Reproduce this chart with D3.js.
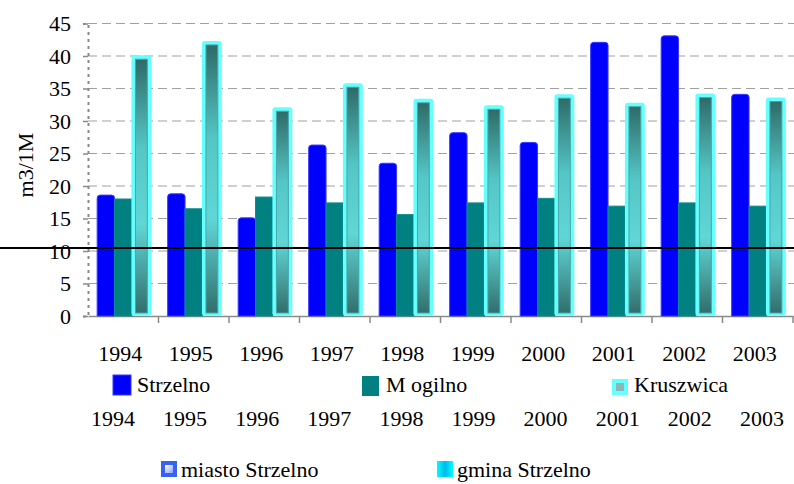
<!DOCTYPE html>
<html>
<head>
<meta charset="utf-8">
<script src="https://cdn.jsdelivr.net/npm/d3@7"></script>
<style>
  body { margin: 0; background: #fff; }
</style>
</head>
<body>
<svg id="chart" width="794" height="484"></svg>
<script>
const years = ['1994', '1995', '1996', '1997', '1998', '1999', '2000', '2001', '2002', '2003']
const series = ['Strzelno', 'Mogilno', 'Kruszwica']
const strzelno = [18.6, 18.8, 15.1, 26.3, 23.5, 28.2, 26.7, 42.1, 43.1, 34.1]
const mogilno = [18.0, 16.5, 18.3, 17.4, 15.6, 17.4, 18.1, 16.9, 17.4, 16.9]
const kruszwica = [39.5, 41.7, 31.5, 35.2, 32.8, 31.8, 33.5, 32.2, 33.6, 33.0]
const yTicks = d3.range(0, 50, 5)
const secondYears = years
const extraLegend = ['miasto Strzelno', 'gmina Strzelno']

const FONT = '"Liberation Serif"'
const svg = d3.select('#chart')
const x0 = d3.scaleBand().domain(years).range([88, 793]).paddingInner(0.26).paddingOuter(0.13)
const x1 = d3.scaleBand().domain(series).range([0, x0.bandwidth()])
const y = d3.scaleLinear().domain([0, 45]).range([316, 23.5])

function label(x, yy, txt, anchor) {
  return svg.append('text')
    .attr('x', x)
    .attr('y', yy)
    .attr('text-anchor', anchor || 'start')
    .style('font-family', FONT)
    .style('font-size', '22px')
    .text(txt)
}

const defs = svg.append('defs')
const grad = defs.append('linearGradient').attr('id', 'kru').attr('x1', 0).attr('x2', 0).attr('y1', 0).attr('y2', 1)
grad.selectAll('stop')
  .data([[0, '#2e6b68'], [0.35, '#55c6c6'], [0.65, '#60d6d6'], [1, '#316e6c']])
  .enter().append('stop')
  .attr('offset', (d) => d[0]).attr('stop-color', (d) => d[1])

const lg1 = defs.append('linearGradient').attr('id', 'leg1').attr('x1', 0).attr('x2', 1).attr('y1', 0).attr('y2', 1)
lg1.append('stop').attr('offset', 0).attr('stop-color', '#ffffff')
lg1.append('stop').attr('offset', 1).attr('stop-color', '#8aa0ff')
const lg2 = defs.append('linearGradient').attr('id', 'leg2').attr('x1', 0).attr('x2', 1)
lg2.append('stop').attr('offset', 0).attr('stop-color', '#00ffff')
lg2.append('stop').attr('offset', 0.5).attr('stop-color', '#00b8ee')
lg2.append('stop').attr('offset', 1).attr('stop-color', '#00ffff')

// gridlines
svg.append('g')
  .selectAll('line')
  .data(yTicks.filter((d) => d > 0))
  .enter()
  .append('line')
  .attr('x1', 88).attr('x2', 794)
  .attr('y1', (d) => y(d)).attr('y2', (d) => y(d))
  .attr('stroke', '#a0a0a0')
  .attr('stroke-width', 1.2)
  .attr('stroke-dasharray', '9,5')

// y axis
const yAxis = svg.append('g')
  .attr('transform', 'translate(88,0)')
  .call(d3.axisLeft(y).tickValues(yTicks).tickSize(5).tickFormat(''))
yAxis.select('.domain').attr('stroke', '#8a8a8a').attr('stroke-width', 2).attr('stroke-dasharray', '3,4')
yAxis.selectAll('.tick line').attr('stroke', '#8a8a8a').attr('stroke-width', 1.5)
yTicks.forEach((v) => label(71, y(v) + 7.5, String(v), 'end'))

// x axis
const xAxis = svg.append('g')
  .attr('transform', 'translate(0,316)')
  .call(d3.axisBottom(x0).tickSize(0).tickFormat(''))
xAxis.select('.domain').attr('stroke', '#8a8a8a').attr('stroke-width', 1.5)
xAxis.selectAll('.sep')
  .data(years.slice(1).concat(['end']))
  .enter()
  .append('line')
  .attr('x1', (d, i) => 88 + x0.step() * (i + 1))
  .attr('x2', (d, i) => 88 + x0.step() * (i + 1))
  .attr('y1', 0).attr('y2', 7)
  .attr('stroke', '#8a8a8a').attr('stroke-width', 1.5)
years.forEach((d) => label(x0(d) + x0.bandwidth() / 2 - 3, 361, d, 'middle'))

function topRounded(x, yTop, w, h, r) {
  return `M${x},${yTop + h}V${yTop + r}Q${x},${yTop} ${x + r},${yTop}H${x + w - r}Q${x + w},${yTop} ${x + w},${yTop + r}V${yTop + h}Z`
}

const groups = svg.append('g')
  .selectAll('g')
  .data(years)
  .enter()
  .append('g')
  .attr('transform', (d) => `translate(${x0(d)},0)`)

// Strzelno
groups.append('path')
  .attr('d', (d, i) => topRounded(0, y(strzelno[i]), x1.bandwidth(), y(0) - y(strzelno[i]), 3))
  .attr('fill', '#0000ff')
  .attr('stroke', '#3a3aff')
  .attr('stroke-width', 1)

// Mogilno
groups.append('rect')
  .attr('x', x1('Mogilno'))
  .attr('y', (d, i) => y(mogilno[i]))
  .attr('width', x1.bandwidth())
  .attr('height', (d, i) => y(0) - y(mogilno[i]))
  .attr('fill', '#008080')
  .attr('stroke', '#0f8c8c')
  .attr('stroke-width', 1)

// Kruszwica
groups.append('rect')
  .attr('x', x1('Kruszwica') - 0.5)
  .attr('y', (d, i) => y(kruszwica[i]) - 4)
  .attr('width', x1.bandwidth() + 2.5)
  .attr('height', (d, i) => y(0) - y(kruszwica[i]) + 4)
  .attr('rx', 3)
  .attr('fill', '#66ffff')
groups.append('rect')
  .attr('x', x1('Kruszwica') + 3.5)
  .attr('y', (d, i) => y(kruszwica[i]))
  .attr('width', x1.bandwidth() - 5.5)
  .attr('height', (d, i) => y(0) - y(kruszwica[i]) - 3)
  .attr('fill', 'url(#kru)')
  .attr('stroke', '#4aa6a6')
  .attr('stroke-width', 1)

// y title
svg.append('text')
  .attr('transform', 'translate(33,165) rotate(-90)')
  .attr('text-anchor', 'middle')
  .style('font-family', FONT)
  .style('font-size', '22px')
  .text('m3/1M')

// legend row 1
const legX = [113, 362, 612]
const leg = svg.append('g')
leg.append('rect').attr('x', legX[0]).attr('y', 375).attr('width', 18).attr('height', 20).attr('fill', '#0000ff').attr('stroke', '#3a3aff')
leg.append('rect').attr('x', legX[1]).attr('y', 376).attr('width', 17).attr('height', 20).attr('fill', '#008080')
leg.append('rect').attr('x', legX[2]).attr('y', 379).attr('width', 16).attr('height', 16).attr('fill', '#66ffff')
leg.append('rect').attr('x', legX[2] + 4).attr('y', 383).attr('width', 8).attr('height', 8).attr('fill', '#8ab8b8')
series.forEach((d, i) => label(legX[i] + (i === 2 ? 22 : 24), 392, d === 'Mogilno' ? 'M ogilno' : d))

// second year row
secondYears.forEach((d, i) => label(113 + i * 72.1, 426, d, 'middle'))

// legend row 3
const leg3X = [161, 437]
const leg3 = svg.append('g')
leg3.append('rect').attr('x', leg3X[0]).attr('y', 461).attr('width', 16).attr('height', 16).attr('fill', '#3562f5')
leg3.append('rect').attr('x', leg3X[0] + 4).attr('y', 465).attr('width', 8).attr('height', 8).attr('fill', 'url(#leg1)')
leg3.append('rect').attr('x', leg3X[1]).attr('y', 461).attr('width', 16).attr('height', 16).attr('fill', 'url(#leg2)')
extraLegend.forEach((d, i) => label(leg3X[i] + 20, 477, d))

// black horizontal line
svg.append('line')
  .attr('x1', 0).attr('x2', 794)
  .attr('y1', 248).attr('y2', 248)
  .attr('stroke', '#000')
  .attr('stroke-width', 2)
</script>
</body>
</html>
